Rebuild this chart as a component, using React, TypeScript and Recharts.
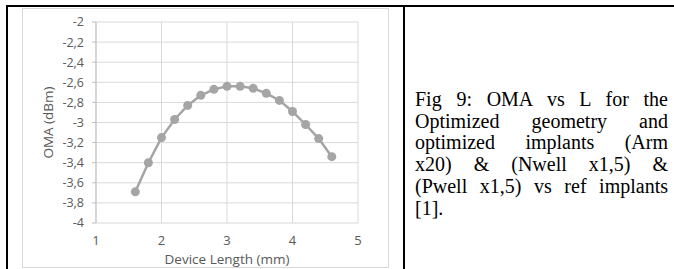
import { LineChart, Line, XAxis, YAxis, CartesianGrid } from 'recharts'

const lengths = [1.6, 1.8, 2.0, 2.2, 2.4, 2.6, 2.8, 3.0, 3.2, 3.4, 3.6, 3.8, 4.0, 4.2, 4.4, 4.6]
const oma = [-3.69, -3.4, -3.15, -2.97, -2.83, -2.73, -2.67, -2.64, -2.64, -2.66, -2.71, -2.78, -2.89, -3.02, -3.16, -3.34]

const xTicks = [1, 2, 3, 4, 5]
const yTicks = [-4, -3.8, -3.6, -3.4, -3.2, -3, -2.8, -2.6, -2.4, -2.2, -2]
const xMinor = [1.2, 1.4, 1.6, 1.8, 2.2, 2.4, 2.6, 2.8, 3.2, 3.4, 3.6, 3.8, 4.2, 4.4, 4.6, 4.8]
// minor horizontal grid every 0.04
const yMinor = Array.from({ length: 51 }, (_, i) => -4 + i * 0.04)

const captionLines = [
  'Fig 9: OMA vs L for the',
  'Optimized geometry and',
  'optimized implants (Arm',
  'x20) & (Nwell x1,5) &',
  '(Pwell x1,5) vs ref implants',
  '[1].',
]

const data = lengths.map((len, i) => ({ len, oma: oma[i] }))

const fmt = (v: number) => String(Math.round(v * 10) / 10).replace('.', ',')

const minorH = ({ yAxis }: any) =>
  yAxis && typeof yAxis.scale === 'function' ? yMinor.map(v => yAxis.scale(v)) : []
const minorV = ({ xAxis }: any) =>
  xAxis && typeof xAxis.scale === 'function' ? xMinor.map(v => xAxis.scale(v)) : []

const font = '"Open Sans", sans-serif'

export default function App() {
  return (
    <div style={{ position: 'absolute', left: 0, top: 0, width: 674, height: 269, background: '#fff', overflow: 'hidden' }}>
      {/* table borders */}
      <div style={{ position: 'absolute', left: 6, top: 5, width: 668, height: 2, background: '#000' }} />
      <div style={{ position: 'absolute', left: 6, top: 5, width: 2, height: 264, background: '#000' }} />
      <div style={{ position: 'absolute', left: 403, top: 5, width: 2, height: 264, background: '#000' }} />

      {/* chart frame */}
      <div style={{ position: 'absolute', left: 22, top: 8, width: 367, height: 260, border: '1px solid #d9d9d9', boxSizing: 'border-box' }} />

      <div style={{ position: 'absolute', left: 22, top: 8 }}>
        <LineChart width={367} height={260} data={data} margin={{ top: 14, right: 31, left: 0, bottom: 0 }}>
          <CartesianGrid stroke="#efefef" horizontalCoordinatesGenerator={minorH} verticalCoordinatesGenerator={minorV} />
          <CartesianGrid stroke="#d9d9d9" />
          <XAxis
            dataKey="len"
            type="number"
            domain={[1, 5]}
            ticks={xTicks}
            interval={0}
            axisLine={false}
            tickLine={false}
            tickSize={0}
            tickMargin={13}
            height={45}
            tick={{ fill: '#595959', fontSize: 13, fontFamily: font }}
            label={{ value: 'Device Length (mm)', position: 'insideBottom', offset: 4, fill: '#595959', fontSize: 13.5, fontFamily: font }}
          />
          <YAxis
            type="number"
            domain={[-4, -2]}
            ticks={yTicks}
            interval={0}
            width={74}
            tickFormatter={fmt}
            axisLine={{ stroke: '#bfbfbf' }}
            tickLine={{ stroke: '#bfbfbf' }}
            tickSize={4}
            tickMargin={8}
            tick={{ fill: '#595959', fontSize: 12.5, fontFamily: font }}
            label={{ value: 'OMA (dBm)', angle: -90, position: 'center', dx: -11, fill: '#595959', fontSize: 13.5, fontFamily: font }}
          />
          <Line
            dataKey="oma"
            stroke="#a5a5a5"
            strokeWidth={2.5}
            dot={{ r: 4.5, fill: '#a5a5a5', stroke: 'none' }}
            activeDot={false}
            isAnimationActive={false}
          />
        </LineChart>
      </div>

      {/* caption */}
      <div style={{ position: 'absolute', left: 415, top: 89, width: 253, fontFamily: '"Liberation Serif", "Times New Roman", serif', fontSize: 20, lineHeight: '21.7px', color: '#000' }}>
        {captionLines.map((t, i) => (
          <div key={i} style={{ textAlign: 'justify', textAlignLast: i < captionLines.length - 1 ? 'justify' : 'left', whiteSpace: 'nowrap' }}>
            {t}
          </div>
        ))}
      </div>
    </div>
  )
}
